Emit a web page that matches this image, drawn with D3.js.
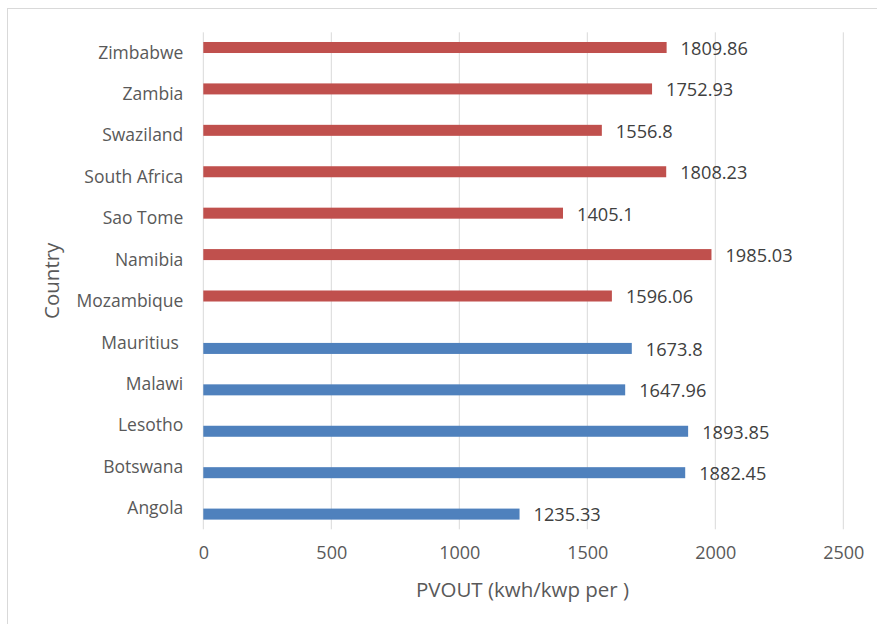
<!DOCTYPE html>
<html>
<head>
<meta charset="utf-8">
<script src="https://cdn.jsdelivr.net/npm/d3@7"></script>
<style>
  body { margin: 0; background: #fff; }
  text { font-family: "Open Sans", sans-serif; }
</style>
</head>
<body>
<svg id="chart" width="877" height="624"></svg>
<script>
// Data, top to bottom as in the chart
const countries = ['Zimbabwe', 'Zambia', 'Swaziland', 'South Africa', 'Sao Tome', 'Namibia',
  'Mozambique', 'Mauritius ', 'Malawi', 'Lesotho', 'Botswana', 'Angola'];
const pvout = [1809.86, 1752.93, 1556.8, 1808.23, 1405.1, 1985.03,
  1596.06, 1673.8, 1647.96, 1893.85, 1882.45, 1235.33];
const series = ['red', 'red', 'red', 'red', 'red', 'red',
  'red', 'blue', 'blue', 'blue', 'blue', 'blue'];
const seriesNames = ['red', 'blue'];
const xTicks = [0, 500, 1000, 1500, 2000, 2500];

const colors = { red: '#C0504D', blue: '#4F81BD' };

const svg = d3.select('#chart');
const plotLeft = 203.3, plotRight = 843.3, plotTop = 32.3, plotBottom = 529.3;

// chart border
svg.append('rect')
    .attr('x', 7.5).attr('y', 8.5)
    .attr('width', 880).attr('height', 630)
    .attr('fill', 'none')
    .attr('stroke', '#d9d9d9');

const x = d3.scaleLinear().domain([0, 2500]).range([plotLeft, plotRight]);
const y = d3.scaleBand().domain(countries).range([plotTop, plotBottom]).padding(0);
const inner = d3.scaleBand().domain(seriesNames)
    .range([0, y.bandwidth()]).paddingInner(0).paddingOuter(0.88);

// Gridlines
svg.append('g').selectAll('line')
    .data(xTicks)
    .enter().append('line')
    .attr('x1', d => x(d)).attr('x2', d => x(d))
    .attr('y1', plotTop).attr('y2', plotBottom)
    .attr('stroke', '#d9d9d9')
    .attr('stroke-width', 1);

// Bars
const rows = countries.map((c, i) => ({ country: c, value: pvout[i], series: series[i] }));

svg.append('g').selectAll('rect')
    .data(rows)
    .enter().append('rect')
    .attr('x', x(0))
    .attr('y', d => y(d.country) + inner(d.series))
    .attr('width', d => x(d.value) - x(0))
    .attr('height', inner.bandwidth())
    .attr('fill', d => colors[d.series]);

// Value labels
svg.append('g').selectAll('text')
    .data(rows)
    .enter().append('text')
    .attr('x', d => x(d.value) + 14)
    .attr('y', d => y(d.country) + inner(d.series) + inner.bandwidth() / 2 + 0.8)
    .attr('dy', '0.36em')
    .attr('font-size', '18.2px')
    .attr('fill', '#404040')
    .text(d => d.value);

// Y axis (category labels)
const yAxis = d3.axisLeft(y).tickSize(0).tickPadding(20);
const gy = svg.append('g').attr('transform', `translate(${plotLeft},0)`).call(yAxis);
gy.select('.domain').remove();
gy.selectAll('text')
    .attr('font-size', '17.5px')
    .attr('fill', '#595959')
    .style('white-space', 'pre')
    .attr('font-family', '"Open Sans", sans-serif');

// X axis
const xAxis = d3.axisBottom(x).tickValues(xTicks).tickFormat(d3.format('d'))
    .tickSize(0).tickPadding(17);
const gx = svg.append('g').attr('transform', `translate(0,${plotBottom})`).call(xAxis);
gx.select('.domain').remove();
gx.selectAll('text')
    .attr('font-size', '18px')
    .attr('fill', '#595959')
    .attr('font-family', '"Open Sans", sans-serif');

// Axis titles
svg.append('text')
    .attr('x', 522.5)
    .attr('y', 590)
    .attr('dy', '0.36em')
    .attr('text-anchor', 'middle')
    .attr('font-size', '20.5px')
    .attr('fill', '#595959')
    .text('PVOUT (kwh/kwp per )');

svg.append('text')
    .attr('transform', `translate(52,${(plotTop + plotBottom) / 2}) rotate(-90)`)
    .attr('dy', '0.36em')
    .attr('text-anchor', 'middle')
    .attr('font-size', '20.5px')
    .attr('fill', '#595959')
    .text('Country');
</script>
</body>
</html>
